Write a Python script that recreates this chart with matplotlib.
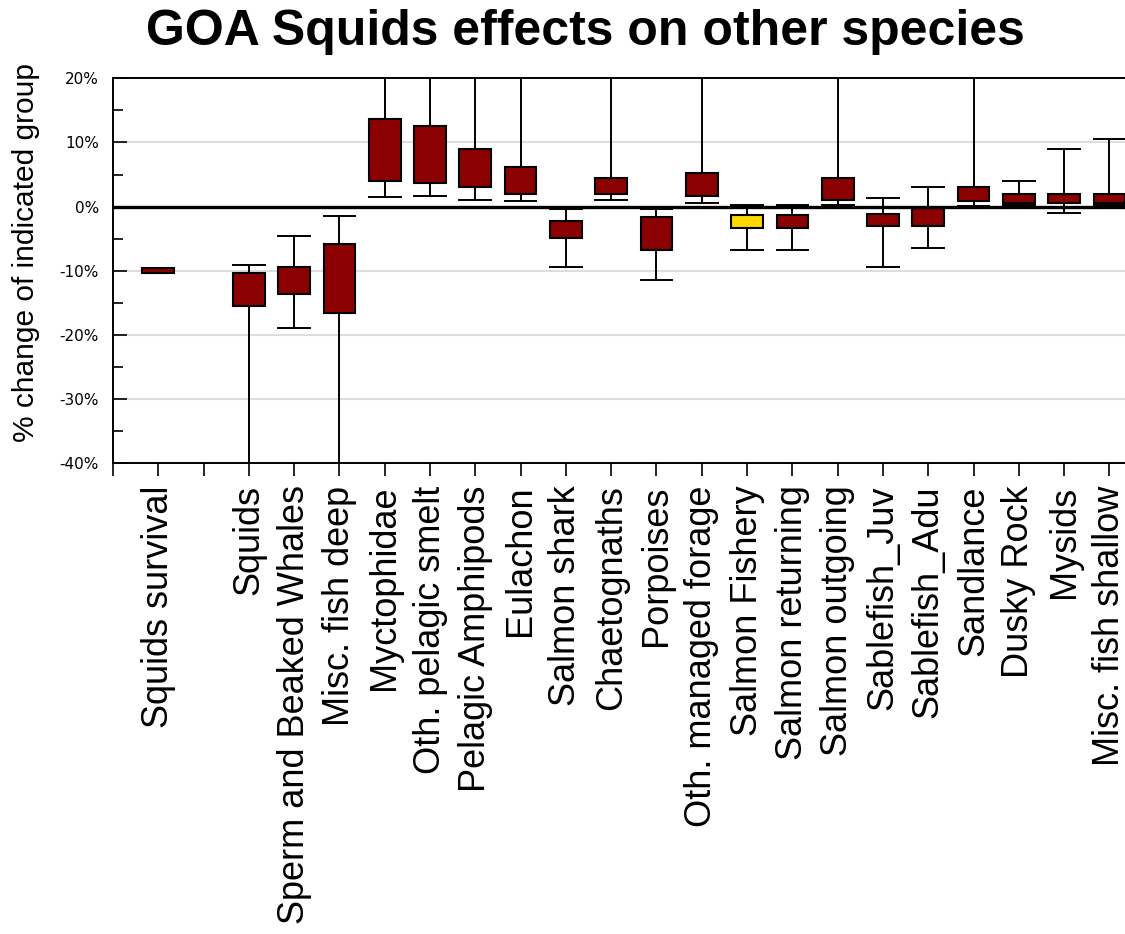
import matplotlib
matplotlib.use("Agg")
import matplotlib.pyplot as plt
from matplotlib.ticker import FixedLocator, MultipleLocator, FuncFormatter

# groups shown along the x axis (a blank slot follows the first one)
groups = ["Squids survival", "Squids", "Sperm and Beaked Whales", "Misc. fish deep",
          "Myctophidae", "Oth. pelagic smelt", "Pelagic Amphipods", "Eulachon",
          "Salmon shark", "Chaetognaths", "Porpoises", "Oth. managed forage",
          "Salmon Fishery", "Salmon returning", "Salmon outgoing", "Sablefish_Juv",
          "Sablefish_Adu", "Sandlance", "Dusky Rock", "Mysids", "Misc. fish shallow"]

# % change: lower whisker, box bottom, box top, upper whisker
whisk_lo = [-10.4, -45, -18.9, -45, 1.5, 1.7, 1.1, 0.8, -9.4, 1.1, -11.5,
            0.5, -6.7, -6.7, 0.2, -9.4, -6.4, 0.15, 0.3, -1.0, 0.2]
box_lo = [-10.4, -15.5, -13.6, -16.6, 4.05, 3.7, 3.1, 1.9, -4.9, 1.9, -6.7,
          1.7, -3.4, -3.4, 1.1, -3.1, -3.1, 0.8, 0.5, 0.5, 0.5]
box_hi = [-9.6, -10.3, -9.4, -5.8, 13.6, 12.5, 8.9, 6.2, -2.2, 4.4, -1.6,
          5.25, -1.3, -1.3, 4.4, -1.1, -0.2, 3.1, 1.9, 1.9, 1.9]
whisk_hi = [-9.6, -9.1, -4.6, -1.5, 30, 30, 30, 30, -0.3, 30, -0.3,
            30, 0.2, 0.2, 30, 1.35, 3.1, 30, 4.05, 8.9, 10.6]

highlight = "Salmon Fishery"

fig = plt.figure(figsize=(11.25, 9.34), dpi=100)
ax = fig.add_axes([0.1004, 0.504, 0.92, 0.4122])

# first group alone, then one empty slot, then the rest
positions = [0] + list(range(2, len(groups) + 1))

stats = []
for name, wl, q1, q3, wh in zip(groups, whisk_lo, box_lo, box_hi, whisk_hi):
    stats.append({"label": name, "whislo": wl, "q1": q1, "med": q1,
                  "q3": q3, "whishi": wh})

bp = ax.bxp(stats, positions=positions, widths=0.7, patch_artist=True,
            showfliers=False,
            boxprops=dict(edgecolor="black", linewidth=1.5),
            whiskerprops=dict(color="black", linewidth=1.4),
            capprops=dict(color="black", linewidth=1.4),
            medianprops=dict(linewidth=0),
            capwidths=0.7)
for patch, name in zip(bp["boxes"], groups):
    patch.set_facecolor("#FFD700" if name == highlight else "#8B0000")

ax.axhline(0, color="black", linewidth=2.4, zorder=5)

ax.set_ylim(-40, 20)
ax.set_xlim(-1, 21.85)

ax.yaxis.set_major_locator(MultipleLocator(10))
ax.yaxis.set_minor_locator(MultipleLocator(5))
ax.yaxis.set_major_formatter(FuncFormatter(lambda v, p: f"{v:.0f}%"))
ax.tick_params(axis="y", which="major", direction="in", length=10, width=1.2,
               labelsize=11, pad=10)
ax.tick_params(axis="y", which="minor", direction="in", length=7, width=1.2)
for v in [-30, -20, -10, 10]:
    ax.axhline(v, color="#dddddd", linewidth=1.5, zorder=0)

ax.xaxis.set_major_locator(FixedLocator(range(-1, 22)))
ax.set_xticklabels([""] + [groups[0], ""] + groups[1:])
ax.tick_params(axis="x", direction="out", length=9, width=1.2, pad=7)
for lbl in ax.get_xticklabels():
    lbl.set_rotation(90)
    lbl.set_fontsize(26)
    lbl.set_family("Liberation Sans")

for s in ["top", "bottom", "left"]:
    ax.spines[s].set_linewidth(1.4)
ax.spines["right"].set_visible(False)

ax.set_ylabel("% change of indicated group", fontsize=21.5, family="Liberation Sans")
ax.yaxis.set_label_coords(-0.07, 0.548)
fig.text(0.52, 1 - 45 / 934, "GOA Squids effects on other species", ha="center",
         va="baseline", fontsize=36, fontweight="bold", family="Liberation Sans")

fig.savefig("out.png", dpi=100)
